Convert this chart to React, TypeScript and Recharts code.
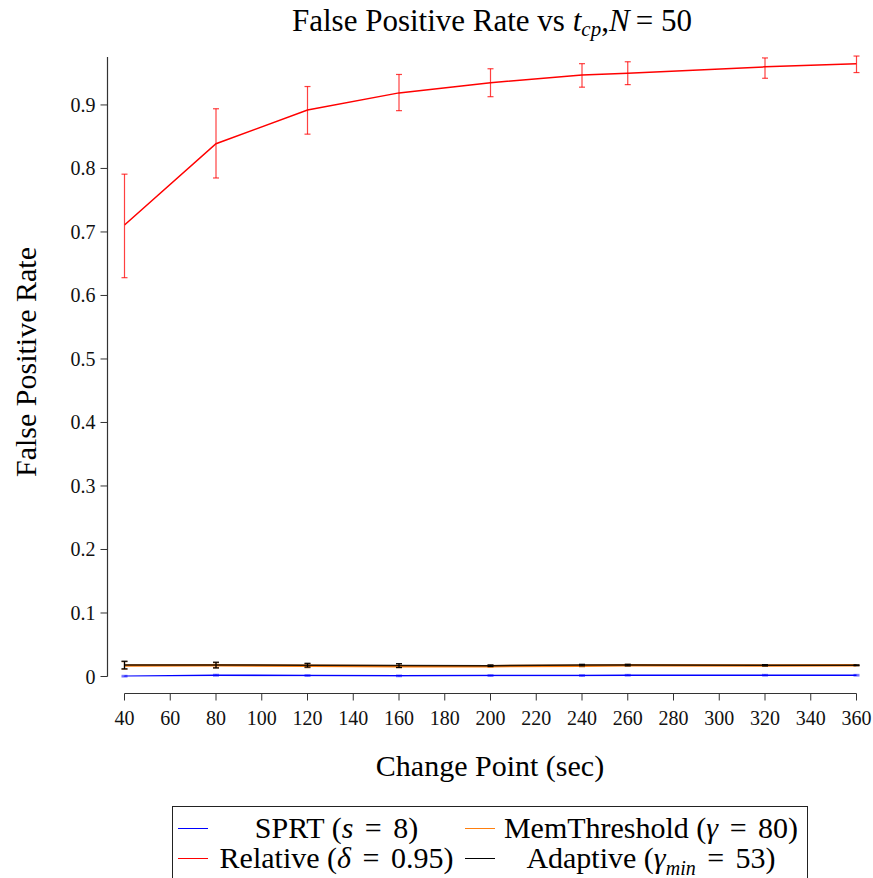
import React from 'react';
import { LineChart, Line, XAxis, YAxis, ErrorBar, ReferenceLine, Legend, Customized } from 'recharts';

// ---------- data ----------
const changePoints = [40, 80, 120, 160, 200, 240, 260, 320, 360];
const sprtRate = [0.0005, 0.002, 0.0015, 0.001, 0.0015, 0.0015, 0.002, 0.002, 0.002];
const sprtErr = [0.001, 0.0012, 0.001, 0.001, 0.001, 0.001, 0.001, 0.001, 0.001];
const relativeRate = [0.711, 0.839, 0.892, 0.919, 0.935, 0.947, 0.95, 0.96, 0.965];
const relativeErrLow = [0.083, 0.054, 0.038, 0.028, 0.022, 0.019, 0.018, 0.018, 0.014];
const relativeErrHigh = [0.08, 0.055, 0.037, 0.029, 0.022, 0.018, 0.018, 0.014, 0.012];
const memRate = [0.0175, 0.0178, 0.017, 0.016, 0.0162, 0.017, 0.0178, 0.0175, 0.0176];
const memErr = [0.006, 0.004, 0.003, 0.002, 0.0015, 0.0015, 0.0012, 0.001, 0.0006];
const adaptiveRate = [0.018, 0.018, 0.0178, 0.0172, 0.017, 0.018, 0.018, 0.0176, 0.0177];
const adaptiveErr = [0.006, 0.0045, 0.003, 0.003, 0.0012, 0.0012, 0.0012, 0.001, 0.0006];
const xTicks = [40, 60, 80, 100, 120, 140, 160, 180, 200, 220, 240, 260, 280, 300, 320, 340, 360];
const yTicks = [0, 0.1, 0.2, 0.3, 0.4, 0.5, 0.6, 0.7, 0.8, 0.9];

const data = changePoints.map((cp, i) => ({
  cp,
  sprt: sprtRate[i],
  sprtErr: sprtErr[i],
  rel: relativeRate[i],
  relErr: [relativeErrLow[i], relativeErrHigh[i]],
  mem: memRate[i],
  memErr: memErr[i],
  ada: adaptiveRate[i],
  adaErr: adaptiveErr[i],
}));

// ---------- layout ----------
const W = 873;
const H = 878;
const PLOT_LEFT = 124.5;
const PLOT_RIGHT = 856.5;
const PLOT_TOP = 57;
const PLOT_BOTTOM = 676.5;
const X_MIN = 40;
const X_MAX = 360;
const Y_MAX = 0.9755;
const SPINE_OFFSET = 17;
const Y_AXIS_W = 60;
const X_AXIS_H = 30;
const FONT = "'Liberation Serif', 'DejaVu Serif', serif";
const AXIS_COLOR = '#333';

const xSpine = X_MIN - SPINE_OFFSET * ((X_MAX - X_MIN) / (PLOT_RIGHT - PLOT_LEFT));
const ySpine = -SPINE_OFFSET * (Y_MAX / (PLOT_BOTTOM - PLOT_TOP));

const fmtY = (v: number) => (v === 0 ? '0' : v.toFixed(1));

const YTick = (props: any) => {
  const { x, y, payload } = props;
  const ax = x - SPINE_OFFSET;
  return (
    <g>
      <line x1={ax - 7} x2={ax} y1={y} y2={y} stroke={AXIS_COLOR} strokeWidth={1} />
      <text x={ax - 12} y={y} dy="0.35em" textAnchor="end" fontSize={20} style={{ fontFamily: FONT }} fill="#111">
        {fmtY(payload.value)}
      </text>
    </g>
  );
};

const XTick = (props: any) => {
  const { x, y, payload } = props;
  const ay = y + SPINE_OFFSET;
  return (
    <g>
      <line x1={x} x2={x} y1={ay} y2={ay + 7} stroke={AXIS_COLOR} strokeWidth={1} />
      <text x={x} y={ay + 31} textAnchor="middle" fontSize={20} style={{ fontFamily: FONT }} fill="#111">
        {payload.value}
      </text>
    </g>
  );
};

const Titles = () => (
  <g style={{ fontFamily: FONT }} fill="#000">
    <text x={492} y={31} fontSize={31} textAnchor="middle" style={{ fontFamily: FONT }}>
      <tspan>False Positive Rate vs </tspan>
      <tspan fontStyle="italic">t</tspan>
      <tspan fontStyle="italic" fontSize={21} dy={5}>cp</tspan>
      <tspan dy={-5}>,</tspan>
      <tspan fontStyle="italic">N</tspan>
      <tspan>{'\u2009= 50'}</tspan>
    </text>
    <text x={490} y={776} fontSize={30} textAnchor="middle" style={{ fontFamily: FONT }}>Change Point (sec)</text>
    <text x={0} y={0} fontSize={30} textAnchor="middle" transform={`translate(36, 362) rotate(-90)`} style={{ fontFamily: FONT }}>
      False Positive Rate
    </text>
  </g>
);

const Handle = ({ color }: { color: string }) => (
  <span style={{ display: 'inline-block', width: 30, height: 0, borderTop: `1.5px solid ${color}`, flex: '0 0 30px' }} />
);

const Eq = () => <span style={{ margin: '0 4px' }}>=</span>;

const itemStyle: React.CSSProperties = { display: 'flex', alignItems: 'center', height: 30 };
const textStyle: React.CSSProperties = { flex: 1, textAlign: 'center', whiteSpace: 'nowrap' };

const LegendBox = () => (
  <div
    style={{
      boxSizing: 'border-box',
      width: 636,
      height: 90,
      border: '1px solid #222',
      fontFamily: FONT,
      fontSize: 30,
      lineHeight: '30px',
      color: '#000',
      paddingTop: 6,
      paddingLeft: 5,
      display: 'grid',
      gridTemplateColumns: '287px 342px',
      gridAutoRows: '30px',
    }}
  >
    <div style={itemStyle}>
      <Handle color="#0000ff" />
      <span style={textStyle}>SPRT (<i>s</i> <Eq /> 8)</span>
    </div>
    <div style={itemStyle}>
      <Handle color="#ff7f0e" />
      <span style={textStyle}>MemThreshold (<i>γ</i> <Eq /> 80)</span>
    </div>
    <div style={itemStyle}>
      <Handle color="#ff0000" />
      <span style={textStyle}>Relative (<i>δ</i> <Eq /> 0.95)</span>
    </div>
    <div style={itemStyle}>
      <Handle color="#000000" />
      <span style={textStyle}>
        Adaptive (<i>γ</i><sub style={{ fontSize: 20, fontStyle: 'italic', lineHeight: 0 }}>min</sub> <Eq /> 53)
      </span>
    </div>
  </div>
);

export default function App() {
  return (
    <div style={{ position: 'absolute', left: 0, top: 0, width: W, height: H, background: '#fff', fontFamily: FONT }}>
      <LineChart
        width={W}
        height={H}
        data={data}
        style={{ fontFamily: FONT }}
        margin={{
          left: PLOT_LEFT - Y_AXIS_W,
          right: W - PLOT_RIGHT,
          top: PLOT_TOP,
          bottom: H - PLOT_BOTTOM - X_AXIS_H,
        }}
      >
        <XAxis
          dataKey="cp"
          type="number"
          domain={[X_MIN, X_MAX]}
          ticks={xTicks}
          allowDataOverflow
          axisLine={false}
          tickLine={false}
          tickSize={0}
          tickMargin={0}
          height={X_AXIS_H}
          tick={<XTick />}
          interval={0}
        />
        <YAxis
          type="number"
          domain={[0, Y_MAX]}
          ticks={yTicks}
          allowDataOverflow
          axisLine={false}
          tickLine={false}
          tickSize={0}
          tickMargin={0}
          width={Y_AXIS_W}
          tick={<YTick />}
          interval={0}
        />
        <ReferenceLine
          segment={[{ x: xSpine, y: 0 }, { x: xSpine, y: Y_MAX }]}
          stroke={AXIS_COLOR}
          strokeWidth={1.2}
          ifOverflow="visible"
        />
        <ReferenceLine
          segment={[{ x: X_MIN, y: ySpine }, { x: X_MAX, y: ySpine }]}
          stroke={AXIS_COLOR}
          strokeWidth={1.2}
          ifOverflow="visible"
        />
        <Line dataKey="sprt" stroke="#0000ff" strokeWidth={1.6} dot={false} isAnimationActive={false}>
          <ErrorBar dataKey="sprtErr" width={3} stroke="#0000ff" strokeOpacity={0.5} strokeWidth={1.5} direction="y" />
        </Line>
        <Line dataKey="rel" stroke="#ff0000" strokeWidth={1.5} dot={false} isAnimationActive={false}>
          <ErrorBar dataKey="relErr" width={3} stroke="#ff0000" strokeOpacity={0.75} strokeWidth={1.2} direction="y" />
        </Line>
        <Line dataKey="mem" stroke="#ff7f0e" strokeWidth={2.5} dot={false} isAnimationActive={false}>
          <ErrorBar dataKey="memErr" width={3} stroke="#c88040" strokeOpacity={0.8} strokeWidth={1.5} direction="y" />
        </Line>
        <Line dataKey="ada" stroke="#000000" strokeOpacity={0.85} strokeWidth={1.5} dot={false} isAnimationActive={false}>
          <ErrorBar dataKey="adaErr" width={3} stroke="#000000" strokeWidth={1.2} direction="y" />
        </Line>
        <Customized component={Titles} />
        <Legend
          layout="horizontal"
          verticalAlign="middle"
          align="center"
          content={() => <LegendBox />}
          wrapperStyle={{ left: 172, top: 806, width: 636, height: 90 }}
        />
      </LineChart>
    </div>
  );
}
